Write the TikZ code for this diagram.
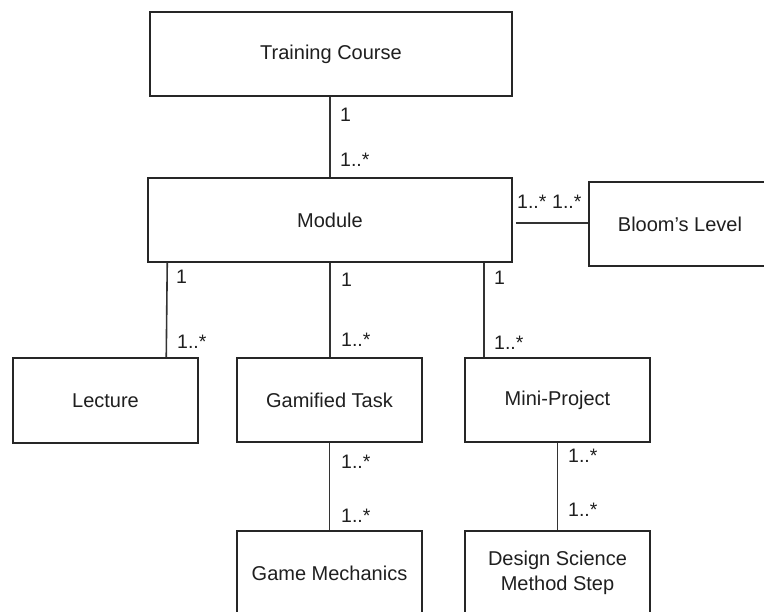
\documentclass[tikz,border=0pt]{standalone}
\usepackage{fontspec}
\setmainfont{Liberation Sans}
\begin{document}
\begin{tikzpicture}[x=1pt,y=-1pt,
  box/.style={draw=black!85,line width=1.5pt,fill=white,minimum height=84pt,inner sep=0pt,align=center,
    font=\fontsize{20}{25}\selectfont,text=black!88},
  conn/.style={draw=black!80,line width=1.6pt},
  mult/.style={anchor=west,inner sep=0pt,font=\fontsize{19.5}{23}\selectfont,text=black!88}]
\clip (0,0) rectangle (764,612);
\fill[white] (0,0) rectangle (764,612);
\node[box,minimum width=362pt] (tc) at (331,54) {Training Course};
\node[box,minimum width=364pt] (mod) at (330,220) {Module};
\node[box,minimum width=182pt] (bloom) at (680,224) {Bloom's Level};
\node[box,minimum width=185pt,minimum height=85pt] (lec) at (105.5,400.5) {Lecture};
\node[box,minimum width=185pt] (gam) at (329.5,400) {Gamified Task};
\node[box,minimum width=185pt] (mini) at (557.5,400) {Mini-Project};
\node[box,minimum width=185pt] (gm) at (329.5,573) {Game Mechanics};
\node[box,minimum width=185pt] (dsms) at (557.5,573) {Design Science\\Method Step};
% connectors
\draw[conn] (mod.north) -- (mod.north |- tc.south);
\draw[conn] ([xshift=20pt]mod.south west) -- ([xshift=154pt]lec.north west);
\draw[conn] (mod.south) -- (mod.south |- gam.north);
\coordinate (mm) at ([xshift=337pt]mod.south west);
\draw[conn] (mm) -- (mm |- mini.north);
\coordinate (mb) at ([xshift=3pt,yshift=-3pt]mod.east);
\draw[conn] (mb) -- (mb -| bloom.west);
\draw[conn] (gam.south) -- (gam.south |- gm.north);
\draw[conn] (mini.south) -- (mini.south |- dsms.north);
% multiplicities
\node[mult] (m1) at (340,115) {1};
\node[mult] (m2) at (340,160) {1..*};
\node[mult] (m3) at (176,277) {1};
\node[mult] (m4) at (177,342) {1..*};
\node[mult] (m5) at (341,280) {1};
\node[mult] (m6) at (341,340) {1..*};
\node[mult] (m7) at (494,278) {1};
\node[mult] (m8) at (494,343) {1..*};
\node[mult] (m9) at (517,202) {1..*};
\node[mult] (m10) at (552,202) {1..*};
\node[mult] (m11) at (341,462) {1..*};
\node[mult] (m12) at (341,516) {1..*};
\node[mult] (m13) at (568,456) {1..*};
\node[mult] (m14) at (568,510) {1..*};
\end{tikzpicture}
\end{document}
